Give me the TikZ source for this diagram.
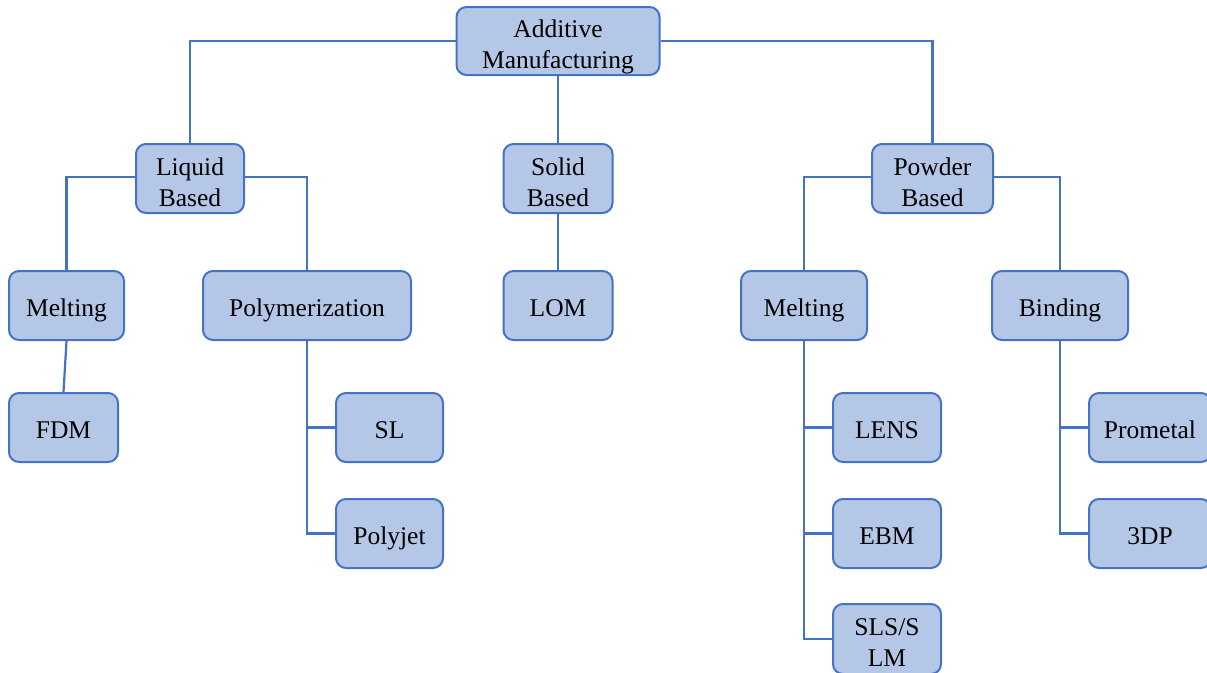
\documentclass[tikz,border=0pt]{standalone}
\usepackage{fontspec}
\setmainfont{Liberation Serif}
\definecolor{bfill}{HTML}{B4C7E7}
\definecolor{bline}{HTML}{4472C4}
\begin{document}
\begin{tikzpicture}[x=1pt,y=-1pt,
  box/.style={draw=bline, fill=bfill, line width=2pt, rounded corners=10pt, align=center, inner sep=0pt,
    font=\fontsize{25.5}{31}\selectfont, minimum height=69pt, text height=21pt, text depth=0pt},
  box2/.style={box, text height=55pt, text depth=0pt},
  conn/.style={draw=bline, line width=2.2pt}]
\useasboundingbox (0,0) rectangle (1207,672);
\node[box2, minimum width=203pt, minimum height=68pt] (am) at (558,41) {Additive\\Manufacturing};
\node[box2, minimum width=108pt] (lb) at (190,178.5) {Liquid\\Based};
\node[box2, minimum width=109pt] (sb) at (558,178.5) {Solid\\Based};
\node[box2, minimum width=121pt] (pb) at (932.5,178.5) {Powder\\Based};
\node[box, minimum width=115pt] (m1) at (66.5,305.5) {Melting};
\node[box, minimum width=208pt] (poly) at (307,305.5) {Polymerization};
\node[box, minimum width=109pt] (lom) at (558,305.5) {LOM};
\node[box, minimum width=126pt] (m2) at (804,305.5) {Melting};
\node[box, minimum width=136pt] (bind) at (1060,305.5) {Binding};
\node[box, minimum width=109pt] (fdm) at (63.5,427.5) {FDM};
\node[box, minimum width=107pt] (sl) at (389.5,427.5) {SL};
\node[box, minimum width=107pt] (pj) at (389.5,533.5) {Polyjet};
\node[box, minimum width=108pt] (lens) at (887,427.5) {LENS};
\node[box, minimum width=108pt] (ebm) at (887,533.5) {EBM};
\node[box2, minimum width=108pt, minimum height=70pt] (sls) at (887,639) {SLS/S\\LM};
\node[box, minimum width=122pt] (prom) at (1150,427.5) {Prometal};
\node[box, minimum width=122pt] (tdp) at (1150,533.5) {3DP};
\path[conn] (am.west) -| (lb.north);
\path[conn] (am.east) -| (pb.north);
\path[conn] (am.south) -- (sb.north);
\path[conn] ([yshift=1.5pt]lb.west) -| (m1.north);
\path[conn] ([yshift=1.5pt]lb.east) -| (poly.north);
\path[conn] (sb.south) -- (lom.north);
\path[conn] ([yshift=1.5pt]pb.west) -| (m2.north);
\path[conn] ([yshift=1.5pt]pb.east) -| (bind.north);
\path[conn] (m1.south) -- (fdm.north);
\path[conn] (poly.south) |- (sl.west);
\path[conn] (poly.south) |- (pj.west);
\path[conn] (m2.south) |- (lens.west);
\path[conn] (m2.south) |- (ebm.west);
\path[conn] (m2.south) |- (sls.west);
\path[conn] (bind.south) |- (prom.west);
\path[conn] (bind.south) |- (tdp.west);
\end{tikzpicture}
\end{document}
